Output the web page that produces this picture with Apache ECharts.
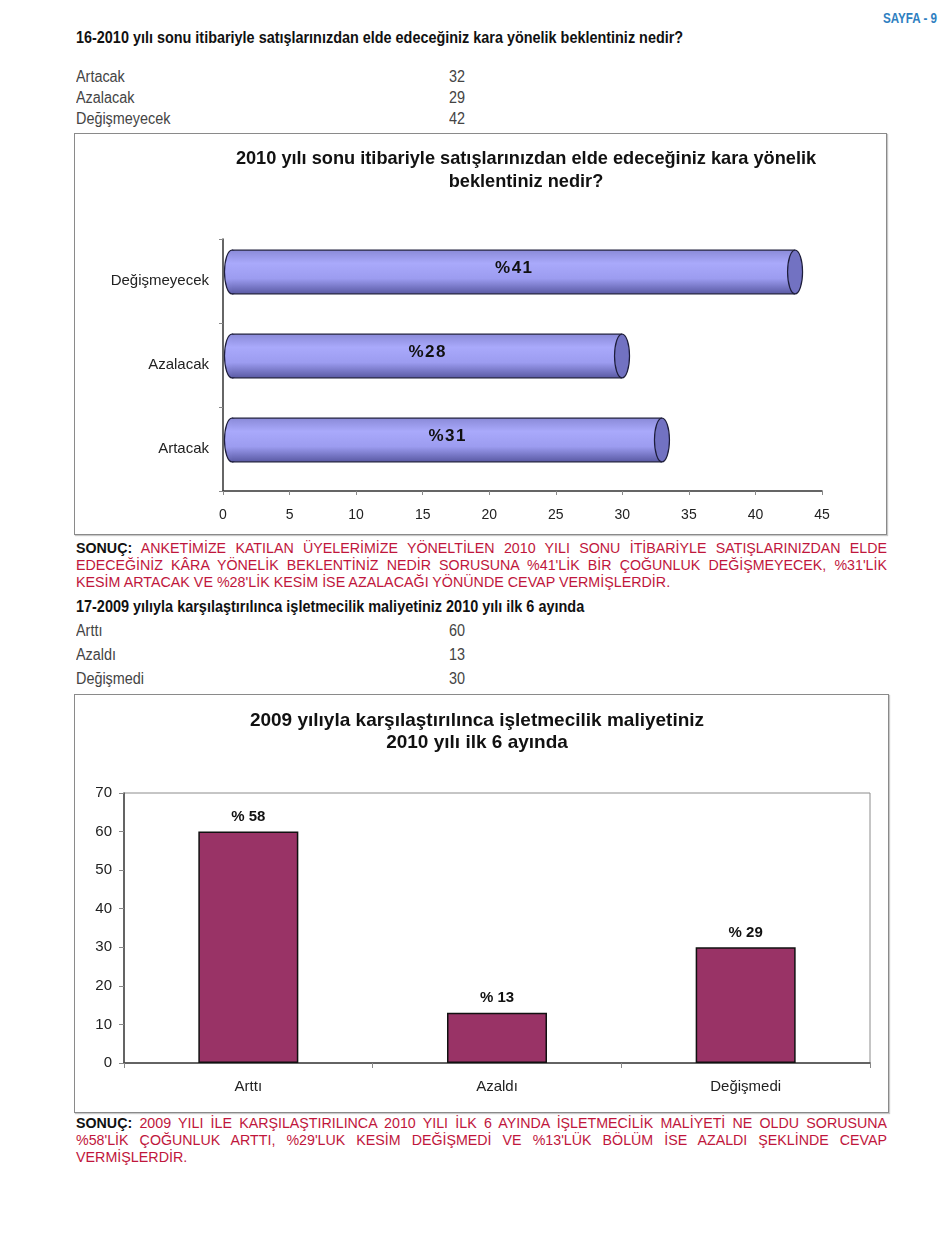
<!DOCTYPE html>
<html>
<head>
<meta charset="utf-8">
<script src="https://cdn.jsdelivr.net/npm/echarts@6/dist/echarts.min.js"></script>
<style>
  body { margin: 0; background: #fff; }
  #page { position: relative; width: 950px; height: 1260px; overflow: hidden; font-family: "Liberation Sans", Arial, sans-serif; }
  .abs { position: absolute; white-space: nowrap; transform-origin: 0 50%; }
  .head { font-weight: bold; font-size: 17px; color: #111; line-height: 20px; }
  .row { font-size: 16px; color: #444; line-height: 20px; }
  .box { position: absolute; box-sizing: border-box; border: 1px solid #8a8a8a; box-shadow: 1px 1px 1px #c8c8c8; background: #fff; }
  .note { position: absolute; left: 76px; width: 811px; font-size: 14.3px; color: #c0163c; line-height: 17px; }
  .note div { text-align: justify; text-align-last: justify; white-space: nowrap; height: 17px; }
  .note div.last { text-align-last: left; }
  .note b { color: #111; font-weight: bold; }
</style>
</head>
<body>
<div id="page">
  <div class="abs fit" data-w="54" style="left:883px; top:10px; font-size:14px; font-weight:bold; color:#2f7fc1; line-height:16px;">SAYFA - 9</div>

  <div class="abs head fit" data-w="607" style="left:76px; top:28px;">16-2010 yılı sonu itibariyle satışlarınızdan elde edeceğiniz kara yönelik beklentiniz nedir?</div>
  <div id="table1"></div>

  <div id="chart1" class="box" style="left:74px; top:133px; width:813px; height:402px;"></div>

  <div class="note" style="top:540px;">
    <div><b>SONUÇ:</b> ANKETİMİZE KATILAN ÜYELERİMİZE YÖNELTİLEN 2010 YILI SONU İTİBARİYLE SATIŞLARINIZDAN ELDE</div>
    <div>EDECEĞİNİZ KÂRA YÖNELİK BEKLENTİNİZ NEDİR SORUSUNA %41'LİK BİR ÇOĞUNLUK DEĞİŞMEYECEK, %31'LİK</div>
    <div class="last">KESİM ARTACAK VE %28'LİK KESİM İSE AZALACAĞI YÖNÜNDE CEVAP VERMİŞLERDİR.</div>
  </div>

  <div class="abs head fit" data-w="508" style="left:76px; top:597px;">17-2009 yılıyla karşılaştırılınca işletmecilik maliyetiniz 2010 yılı ilk 6 ayında</div>
  <div id="table2"></div>

  <div id="chart2" class="box" style="left:74px; top:694px; width:815px; height:419px;"></div>

  <div class="note" style="top:1115px;">
    <div><b>SONUÇ:</b> 2009 YILI İLE KARŞILAŞTIRILINCA 2010 YILI İLK 6 AYINDA İŞLETMECİLİK MALİYETİ NE OLDU SORUSUNA</div>
    <div>%58'LİK ÇOĞUNLUK ARTTI, %29'LUK KESİM DEĞİŞMEDİ VE %13'LÜK BÖLÜM İSE AZALDI ŞEKLİNDE CEVAP</div>
    <div class="last">VERMİŞLERDİR.</div>
  </div>
</div>

<script>
// Question 16 - expectation for profit
const table1Names = ["Artacak", "Azalacak", "Değişmeyecek"];
const table1Counts = [32, 29, 42];
const categories1 = ["Artacak", "Azalacak", "Değişmeyecek"];
const values1 = [32, 29, 42];
const labels1 = ["%31", "%28", "%41"];

// Question 17 - operating cost
const table2Names = ["Arttı", "Azaldı", "Değişmedi"];
const table2Counts = [60, 13, 30];
const categories2 = ["Arttı", "Azaldı", "Değişmedi"];
const values2 = [60, 13, 30];
const labels2 = ["% 58", "% 13", "% 29"];

const FONT = '"Liberation Sans", Arial, sans-serif';
const NARROW = 0.9; // page text is a condensed face

function fillTable(id, names, counts, rowTops) {
  const holder = document.getElementById(id);
  names.forEach((name, i) => {
    [[76, name], [449, counts[i]]].forEach(([left, text]) => {
      const el = document.createElement("div");
      el.className = "abs row";
      el.style.left = left + "px";
      el.style.top = rowTops[i] + "px";
      el.style.transform = `scaleX(${NARROW})`;
      el.textContent = text;
      holder.appendChild(el);
    });
  });
}

fillTable("table1", table1Names, table1Counts, [67, 88, 109]);
fillTable("table2", table2Names, table2Counts, [621, 645, 669]);

// squeeze condensed headings to their width in the scan
document.querySelectorAll(".fit").forEach((el) => {
  const target = parseFloat(el.dataset.w);
  el.style.transform = `scaleX(${target / el.offsetWidth})`;
});

// keep justified note lines inside the column
document.querySelectorAll(".note div").forEach((line) => {
  const probe = document.createElement("span");
  probe.innerHTML = line.innerHTML;
  line.innerHTML = "";
  line.appendChild(probe);
  const w = probe.offsetWidth;
  line.innerHTML = probe.innerHTML;
  if (w > 808) {
    line.style.fontSize = (14.3 * 808) / w + "px";
  }
});

// Chart 1: horizontal cylinders
const chart1 = echarts.init(document.getElementById("chart1"));

function renderCylinder(params, api) {
  const idx = api.value(1);
  const start = api.coord([0, idx]);
  const end = api.coord([api.value(0), idx]);
  const band = api.size([0, 1])[1];
  const h = band * 0.52;
  const cy = start[1] - 9;
  const lx = start[0] + 9;
  const rx = end[0] + 13;
  const capR = 7.5;
  const body = new echarts.graphic.LinearGradient(0, 0, 0, 1, [
    { offset: 0, color: "#8a8ad8" },
    { offset: 0.3, color: "#a9a9fb" },
    { offset: 0.65, color: "#9c9cf0" },
    { offset: 1, color: "#5a5aa4" },
  ]);
  return {
    type: "group",
    children: [
      {
        type: "ellipse",
        shape: { cx: lx, cy: cy, rx: capR, ry: h / 2 },
        style: { fill: body, stroke: "#1e1e3c", lineWidth: 1.2 },
      },
      {
        type: "rect",
        shape: { x: lx, y: cy - h / 2, width: rx - lx, height: h },
        style: { fill: body },
      },
      {
        type: "line",
        shape: { x1: lx, y1: cy - h / 2, x2: rx, y2: cy - h / 2 },
        style: { stroke: "#1e1e3c", lineWidth: 1.2 },
      },
      {
        type: "line",
        shape: { x1: lx, y1: cy + h / 2, x2: rx, y2: cy + h / 2 },
        style: { stroke: "#1e1e3c", lineWidth: 1.2 },
      },
      {
        type: "ellipse",
        shape: { cx: rx, cy: cy, rx: capR, ry: h / 2 },
        style: { fill: "#7272c2", stroke: "#1e1e3c", lineWidth: 1.2 },
      },
      {
        type: "text",
        style: {
          x: (lx + rx) / 2,
          y: cy - 4,
          text: labels1[idx].split("").join("\u200a"),
          align: "center",
          verticalAlign: "middle",
          font: "bold 17px " + FONT,
          fill: "#111",
        },
      },
    ],
  };
}

chart1.setOption({
  animation: false,
  graphic: [
    {
      type: "text",
      x: 451,
      y: 13,
      style: {
        text: "2010 yılı sonu itibariyle satışlarınızdan elde edeceğiniz kara yönelik\nbeklentiniz nedir?",
        align: "center",
        font: "bold 18.2px " + FONT,
        lineHeight: 23,
        fill: "#111",
      },
    },
  ],
  grid: { left: 148, top: 105, width: 599, height: 252, outerBoundsMode: "none" },
  xAxis: {
    type: "value",
    min: 0,
    max: 45,
    interval: 5,
    axisLine: { show: true, lineStyle: { color: "#333", width: 1.5 } },
    axisTick: { show: true, length: 4, lineStyle: { color: "#888" } },
    axisLabel: { color: "#222", fontSize: 14, fontFamily: FONT, margin: 17 },
    splitLine: { show: false },
  },
  yAxis: {
    type: "category",
    data: categories1,
    axisLine: { show: true, lineStyle: { color: "#333", width: 1.5 } },
    axisTick: { show: true, length: 4, lineStyle: { color: "#888" } },
    axisLabel: { color: "#222", fontSize: 15, fontFamily: FONT, margin: 14, padding: [6, 0, 0, 0] },
  },
  series: [
    {
      type: "custom",
      renderItem: renderCylinder,
      encode: { x: 0, y: 1 },
      data: values1.map((v, i) => [v, i]),
    },
  ],
});

// Chart 2: vertical bars
const chart2 = echarts.init(document.getElementById("chart2"));
chart2.setOption({
  animation: false,
  graphic: [
    {
      type: "text",
      x: 402,
      y: 15,
      style: {
        text: "2009 yılıyla karşılaştırılınca işletmecilik maliyetiniz\n2010 yılı ilk 6 ayında",
        align: "center",
        font: "bold 19px " + FONT,
        lineHeight: 22,
        fill: "#111",
      },
    },
  ],
  grid: {
    left: 49,
    top: 98,
    width: 746,
    height: 270,
    show: true,
    borderColor: "#8c8c8c",
    borderWidth: 1,
    outerBoundsMode: "none",
  },
  xAxis: {
    type: "category",
    data: categories2,
    axisLine: { show: true, lineStyle: { color: "#444", width: 1.5 } },
    axisTick: { show: true, length: 5, lineStyle: { color: "#888" } },
    axisLabel: { color: "#222", fontSize: 15, fontFamily: FONT, margin: 16 },
  },
  yAxis: {
    type: "value",
    min: 0,
    max: 70,
    interval: 10,
    axisLine: { show: true, lineStyle: { color: "#444", width: 1.5 } },
    axisTick: { show: true, length: 5, lineStyle: { color: "#888" } },
    axisLabel: { color: "#222", fontSize: 15, fontFamily: FONT, margin: 12 },
    splitLine: { show: false },
  },
  series: [
    {
      type: "bar",
      data: values2,
      barWidth: 100,
      itemStyle: { color: "#993366", borderColor: "#111", borderWidth: 1.5 },
      label: {
        show: true,
        position: "top",
        distance: 7,
        color: "#111",
        fontSize: 15,
        fontWeight: "bold",
        fontFamily: FONT,
        formatter: (p) => labels2[p.dataIndex],
      },
    },
  ],
});
</script>
</body>
</html>
